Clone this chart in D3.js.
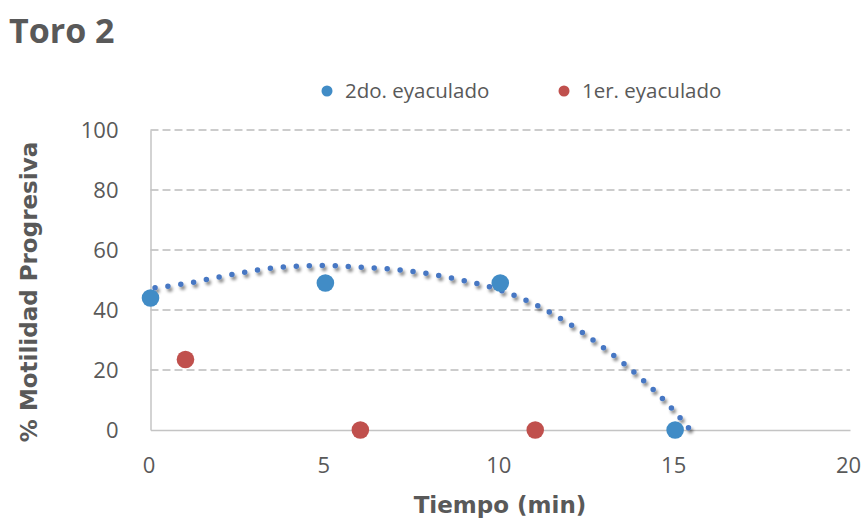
<!DOCTYPE html>
<html>
<head>
<meta charset="utf-8">
<script src="https://cdn.jsdelivr.net/npm/d3@7"></script>
<style>
  body { margin: 0; background: #fff; }
  svg { display: block; font-family: "Open Sans", sans-serif; }
</style>
</head>
<body>
<div id="chart"></div>
<script>
// series: time (min) vs % progressive motility
const seg2X = [0, 5, 10, 15];
const seg2Y = [44, 49, 49, 0];
const prim1X = [1, 6, 11];
const prim1Y = [23.5, 0, 0];

// trendline of the 2nd ejaculate
const trendX = [0.13, 1, 2, 3, 4, 5, 6, 7, 8, 9, 10, 11, 12, 13, 14, 15, 15.4];
const trendY = [47.4, 48.8, 51.1, 53.2, 54.5, 54.8, 54.3, 53.5, 52.0, 49.7, 46.6, 41.8, 35.2, 27.0, 17.5, 6.0, 0.5];

const xTicks = [0, 5, 10, 15, 20];
const yTicks = [0, 20, 40, 60, 80, 100];
const seriesNames = ['2do. eyaculado', '1er. eyaculado'];

const w = 864, h = 520;
const plotL = 150.5, plotR = 850, plotT = 130, plotB = 430;
const blue = '#418cc6', red = '#c0504d', trendColor = '#4677c3', textColor = '#595959';

const svg = d3.select('#chart').append('svg')
    .attr('width', w)
    .attr('height', h);

const defs = svg.append('defs');
const shadow = defs.append('filter')
    .attr('id', 'shadow')
    .attr('x', '-10%').attr('y', '-10%')
    .attr('width', '130%').attr('height', '130%');
shadow.append('feDropShadow')
    .attr('dx', 2).attr('dy', 3)
    .attr('stdDeviation', 1.6)
    .attr('flood-color', '#000')
    .attr('flood-opacity', 0.45);

const x = d3.scaleLinear().domain([0, 20]).range([plotL, plotR]);
const y = d3.scaleLinear().domain([0, 100]).range([plotB, plotT]);

// gridlines
svg.append('g')
    .selectAll('line')
    .data(yTicks.filter(d => d > 0))
    .enter()
    .append('line')
    .attr('x1', plotL)
    .attr('x2', plotR)
    .attr('y1', d => y(d))
    .attr('y2', d => y(d))
    .attr('stroke', '#9a9a9a')
    .attr('stroke-width', 1.2)
    .attr('stroke-dasharray', '8,4');

// axes
const yAxis = d3.axisLeft(y).tickValues(yTicks).tickSize(0).tickPadding(32);
const xAxis = d3.axisBottom(x).tickValues(xTicks).tickSize(0).tickPadding(27);

const gy = svg.append('g')
    .attr('transform', `translate(${plotL},0)`)
    .call(yAxis);
const gx = svg.append('g')
    .attr('transform', `translate(0,${plotB})`)
    .call(xAxis);

[gx, gy].forEach(g => {
    g.select('.domain').attr('stroke', '#c4c4c4').attr('stroke-width', 1.5);
    g.selectAll('text')
        .attr('fill', textColor)
        .style('font-size', '22px')
        .style('font-family', '"Open Sans", sans-serif');
});
gx.selectAll('text').attr('dx', -2);

// trendline
svg.append('path')
    .datum(trendX.map((d, i) => [d, trendY[i]]))
    .attr('d', d3.line().x(d => x(d[0])).y(d => y(d[1])).curve(d3.curveMonotoneX))
    .attr('fill', 'none')
    .attr('stroke', trendColor)
    .attr('stroke-width', 5.5)
    .attr('stroke-linecap', 'round')
    .attr('stroke-dasharray', '0,13')
    .attr('filter', 'url(#shadow)');

// points
svg.append('g')
    .selectAll('circle')
    .data(seg2X.map((d, i) => [d, seg2Y[i]]))
    .enter()
    .append('circle')
    .attr('cx', d => x(d[0]))
    .attr('cy', d => y(d[1]))
    .attr('r', 8.8)
    .attr('fill', blue);

svg.append('g')
    .selectAll('circle')
    .data(prim1X.map((d, i) => [d, prim1Y[i]]))
    .enter()
    .append('circle')
    .attr('cx', d => x(d[0]))
    .attr('cy', d => y(d[1]))
    .attr('r', 8.8)
    .attr('fill', red);

// legend
const legend = svg.append('g');
const legendPos = [327, 564];
[blue, red].forEach((c, i) => {
    legend.append('circle')
        .attr('cx', legendPos[i])
        .attr('cy', 91)
        .attr('r', 5.5)
        .attr('fill', c);
    legend.append('text')
        .attr('x', legendPos[i] + 18)
        .attr('y', 98)
        .attr('fill', textColor)
        .style('font-size', '20.5px')
        .text(seriesNames[i]);
});

// titles
svg.append('text')
    .attr('x', 9)
    .attr('y', 43)
    .attr('fill', textColor)
    .style('font-size', '34px')
    .style('font-weight', 'bold')
    .text('Toro 2');

svg.append('text')
    .attr('x', 500)
    .attr('y', 513)
    .attr('text-anchor', 'middle')
    .attr('fill', textColor)
    .style('font-family', '"DejaVu Sans", sans-serif')
    .style('font-size', '23px')
    .style('font-weight', 'bold')
    .text('Tiempo (min)');

svg.append('text')
    .attr('transform', `translate(37,292) rotate(-90)`)
    .attr('text-anchor', 'middle')
    .attr('fill', textColor)
    .style('font-family', '"DejaVu Sans", sans-serif')
    .style('font-size', '23px')
    .style('font-weight', 'bold')
    .text('% Motilidad Progresiva');
</script>
</body>
</html>
